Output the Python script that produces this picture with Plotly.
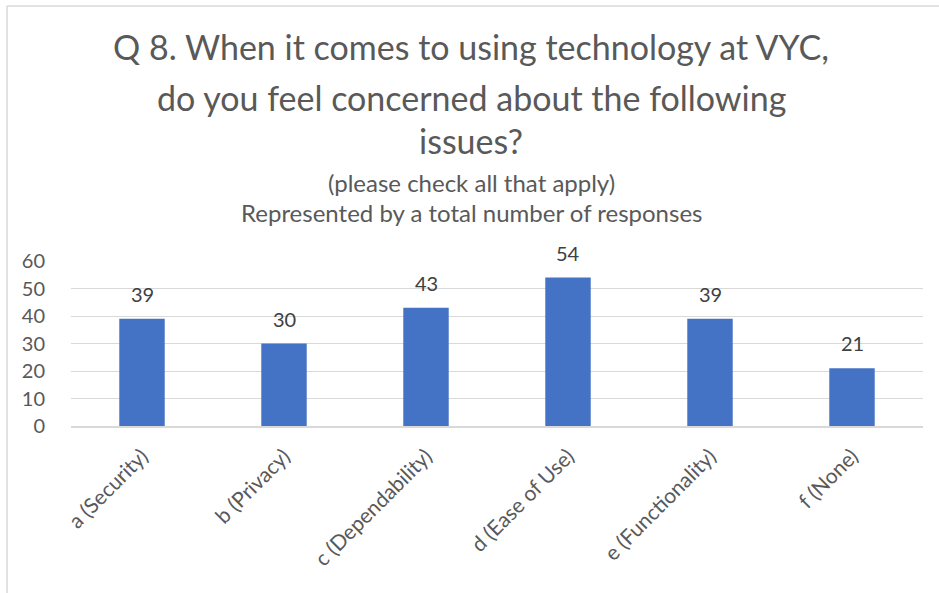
import plotly.graph_objects as go

categories = ["a (Security)", "b (Privacy)", "c (Dependability)", "d (Ease of Use)", "e (Functionality)", "f (None)"]
values = [39, 30, 43, 54, 39, 21]
y_ticks = [0, 10, 20, 30, 40, 50, 60]
title_lines = ["Q 8. When it comes to using technology at VYC,", "do you feel concerned about the following", "issues?"]
subtitle_lines = ["(please check all that apply)", "Represented by a total number of responses"]

W, H = 939, 593
L, R, T, B = 71, 16, 261, 167
TXT = "#595959"
FONT = "Lato"

fig = go.Figure(go.Bar(
    x=categories, y=values,
    marker=dict(color="#4472C4", line=dict(width=0)),
    cliponaxis=False,
))

annotations = []
for c, v in zip(categories, values):
    annotations.append(dict(text=str(v), x=c, y=v, xref="x", yref="y", yshift=25,
                            xanchor="center", yanchor="middle", showarrow=False,
                            font=dict(size=20, color="#404040", family=FONT)))
for txt, shift in zip(title_lines, [215, 164, 121]):
    annotations.append(dict(text=txt, x=0.47, xref="paper", y=1, yref="paper", yshift=shift,
                            xanchor="center", yanchor="middle", showarrow=False,
                            font=dict(size=34, color=TXT, family=FONT)))
for txt, shift in zip(subtitle_lines, [79, 49]):
    annotations.append(dict(text=txt, x=0.47, xref="paper", y=1, yref="paper", yshift=shift,
                            xanchor="center", yanchor="middle", showarrow=False,
                            font=dict(size=24, color=TXT, family=FONT)))

pw = W - L - R
ph = H - T - B
shapes = [
    dict(type="line", xref="paper", yref="paper", x0=(7 - L) / pw, x1=(W - L) / pw,
         y0=1 + (T - 6) / ph, y1=1 + (T - 6) / ph, line=dict(color="#D9D9D9", width=1.5)),
    dict(type="line", xref="paper", yref="paper", x0=(7 - L) / pw, x1=(7 - L) / pw,
         y0=1 + (T - 6) / ph, y1=-(B) / ph, line=dict(color="#D9D9D9", width=1.5)),
]

fig.update_layout(
    width=W, height=H,
    margin=dict(l=L, r=R, t=T, b=B, pad=0),
    paper_bgcolor="white", plot_bgcolor="white",
    bargap=0.68,
    showlegend=False,
    annotations=annotations,
    shapes=shapes,
    font=dict(family=FONT, color=TXT),
    xaxis=dict(tickangle=-45, tickfont=dict(size=21, color=TXT, family=FONT),
               showgrid=False, showline=True, linecolor="#D9D9D9", linewidth=1.5,
               ticks="outside", ticklen=8, tickcolor="rgba(0,0,0,0)"),
    yaxis=dict(range=[0, 60], tickvals=y_ticks, tickfont=dict(size=20, color=TXT, family=FONT),
               showgrid=True, gridcolor="#D9D9D9", gridwidth=1, zeroline=False,
               showline=False, ticks="outside", ticklen=21, tickcolor="rgba(0,0,0,0)"),
)

fig.write_html("out.html")
